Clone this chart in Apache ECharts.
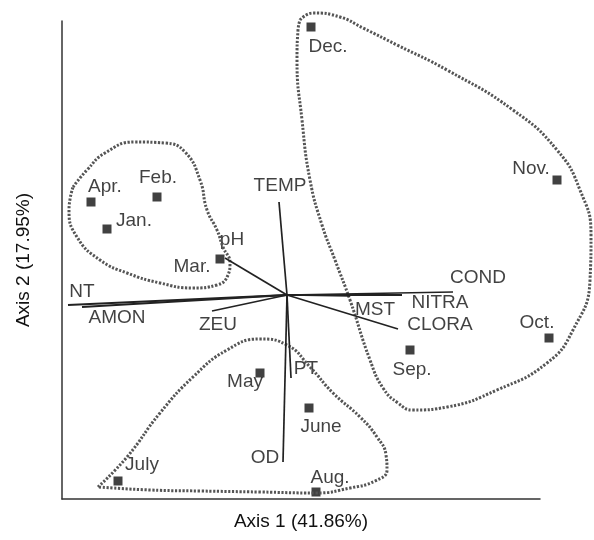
<!DOCTYPE html>
<html>
<head>
<meta charset="utf-8">
<script src="https://cdn.jsdelivr.net/npm/echarts@6/dist/echarts.min.js"></script>
<style>
  html, body { margin: 0; padding: 0; background: #fff; }
  #chart { width: 594px; height: 540px; }
</style>
</head>
<body>
<div id="chart"></div>
<script>
  // months (sample scores on axis 1 / axis 2)
  var months = ['Jan.', 'Feb.', 'Mar.', 'Apr.', 'May', 'June', 'July', 'Aug.', 'Sep.', 'Oct.', 'Nov.', 'Dec.'];
  var monthX = [-1.80, -1.30, -0.67, -1.96, -0.27, 0.22, -1.69, 0.29, 1.23, 2.62, 2.70, 0.24];
  var monthY = [0.66, 0.98, 0.36, 0.93, -0.78, -1.13, -1.86, -1.97, -0.55, -0.43, 1.15, 2.68];

  // environmental variables (vector tips)
  var vars = ['TEMP', 'pH', 'NT', 'AMON', 'ZEU', 'COND', 'NITRA', 'MST', 'CLORA', 'PT', 'OD'];
  var varX = [-0.08, -0.62, -2.19, -2.05, -0.75, 1.66, 1.15, 0.63, 1.11, 0.04, -0.04];
  var varY = [0.93, 0.37, -0.10, -0.12, -0.16, 0.03, 0.00, -0.01, -0.34, -0.83, -1.67];

  // group outlines
  var groupWinter = [[-2.14, 1.08], [-2.00, 1.25], [-1.82, 1.42], [-1.52, 1.53], [-1.22, 1.52], [-1.02, 1.43],
    [-0.87, 1.15], [-0.80, 0.85], [-0.70, 0.65], [-0.64, 0.48], [-0.57, 0.32], [-0.59, 0.20], [-0.70, 0.10],
    [-0.94, 0.07], [-1.27, 0.12], [-1.60, 0.22], [-1.87, 0.35], [-2.10, 0.58], [-2.18, 0.85], [-2.14, 1.08]];
  var groupAutumn = [[0.13, 2.75], [0.26, 2.82], [0.53, 2.78], [0.76, 2.67], [1.10, 2.50], [1.60, 2.25],
    [2.26, 1.85], [2.70, 1.45], [2.93, 1.05], [3.04, 0.60], [3.03, 0.15], [2.86, -0.35], [2.60, -0.68],
    [2.10, -0.95], [1.60, -1.12], [1.26, -1.15], [1.11, -1.08], [0.96, -0.93], [0.83, -0.65], [0.63, -0.05],
    [0.48, 0.35], [0.35, 0.70], [0.23, 1.15], [0.15, 1.75], [0.10, 2.35], [0.11, 2.65], [0.13, 2.75]];
  var groupSummer = [[-1.89, -1.92], [-1.60, -1.62], [-1.27, -1.18], [-0.94, -0.82], [-0.60, -0.55],
    [-0.27, -0.44], [0.00, -0.50], [0.23, -0.72], [0.46, -0.98], [0.73, -1.22], [0.90, -1.42], [0.99, -1.60],
    [1.00, -1.75], [0.88, -1.86], [0.63, -1.93], [0.29, -1.98], [-0.27, -1.97], [-0.87, -1.96],
    [-1.37, -1.95], [-1.89, -1.92]];

  // label offsets in px (text centre relative to the mark)
  var monthOffset = [[27, -8], [1, -19], [-28, 8], [14, -15], [-15, 9], [12, 19], [24, -16], [14, -14],
    [2, 20], [-12, -15], [-26, -11], [17, 20]];
  var varOffset = [[1, -16], [7, -18], [14, -13], [35, 11], [6, 14], [25, -14], [38, 8], [25, 14], [42, -4],
    [15, -9], [-18, -4]];

  var font = "'Liberation Sans', Arial, sans-serif";
  var hidden = { axisTick: { show: false }, axisLabel: { show: false }, splitLine: { show: false } };

  // all marks go on grid 1, which has the same scale as grid 0 but spans the whole canvas,
  // so the outlines can run past the axis frame
  var series = [];
  [groupWinter, groupAutumn, groupSummer].forEach(function (g) {
    series.push({
      type: 'line',
      xAxisIndex: 1, yAxisIndex: 1,
      data: g,
      smooth: 0.5,
      symbol: 'none',
      silent: true,
      lineStyle: { color: '#555', width: 3, type: [2.2, 1.6] }
    });
  });
  for (let i = 0; i < vars.length; i++) {
    series.push({
      type: 'line',
      xAxisIndex: 1, yAxisIndex: 1,
      data: [[0, 0], [varX[i], varY[i]]],
      symbol: 'none',
      lineStyle: { color: '#222', width: (vars[i] === 'NT' || vars[i] === 'AMON' || vars[i] === 'NITRA') ? 2.2 : 1.7 }
    });
  }
  series.push({
    type: 'scatter',
    xAxisIndex: 1, yAxisIndex: 1,
    symbolSize: 0,
    data: vars.map(function (v, i) {
      return {
        value: [varX[i], varY[i]],
        label: { show: true, formatter: v, position: 'inside', offset: varOffset[i] }
      };
    }),
    label: { color: '#111', fontSize: 19, fontFamily: font }
  });
  series.push({
    type: 'scatter',
    xAxisIndex: 1, yAxisIndex: 1,
    symbol: 'rect',
    symbolSize: 9,
    itemStyle: { color: '#111' },
    data: months.map(function (m, i) {
      return {
        value: [monthX[i], monthY[i]],
        label: { show: true, formatter: m, position: 'inside', offset: monthOffset[i] }
      };
    }),
    label: { color: '#111', fontSize: 19, fontFamily: font }
  });

  var myChart = echarts.init(document.getElementById('chart'));
  myChart.setOption({
    animation: false,
    grid: [
      { left: 62, right: 54, top: 21, bottom: 41 },
      { left: 62, right: 0, top: 0, bottom: 41 }
    ],
    xAxis: [
      Object.assign({
        type: 'value', gridIndex: 0, min: -2.25, max: 2.53,
        name: 'Axis 1 (41.86%)', nameLocation: 'middle', nameGap: 13,
        nameTextStyle: { color: '#111', fontSize: 19, fontFamily: font },
        axisLine: { show: true, onZero: false, lineStyle: { color: '#333', width: 1.5 } }
      }, hidden),
      Object.assign({ type: 'value', gridIndex: 1, min: -2.25, max: 3.07, axisLine: { show: false } }, hidden)
    ],
    yAxis: [
      Object.assign({
        type: 'value', gridIndex: 0, min: -2.04, max: 2.74,
        name: 'Axis 2 (17.95%)', nameLocation: 'middle', nameGap: 29,
        nameTextStyle: { color: '#111', fontSize: 19, fontFamily: font },
        axisLine: { show: true, onZero: false, lineStyle: { color: '#333', width: 1.5 } }
      }, hidden),
      Object.assign({ type: 'value', gridIndex: 1, min: -2.04, max: 2.95, axisLine: { show: false } }, hidden)
    ],
    series: series
  });
</script>
</body>
</html>
